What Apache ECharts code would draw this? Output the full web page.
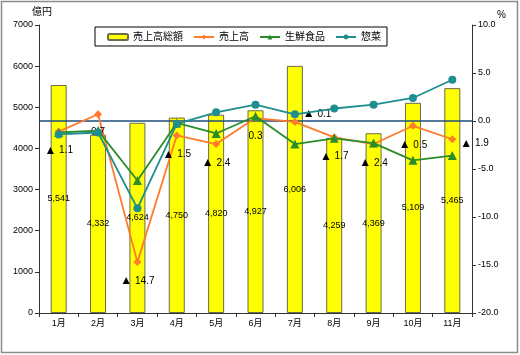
<!DOCTYPE html>
<html>
<head>
<meta charset="utf-8">
<script src="https://cdn.jsdelivr.net/npm/echarts@6/dist/echarts.min.js"></script>
<style>
html,body{margin:0;padding:0;background:#fff;}
#main{width:520px;height:355px;}
</style>
</head>
<body>
<div id="main"></div>
<script>
// ---- data ----
var categories = ['1月','2月','3月','4月','5月','6月','7月','8月','9月','10月','11月'];
var salesTotal = [5541, 4332, 4624, 4750, 4820, 4927, 6006, 4259, 4369, 5109, 5465];   // 売上高総額 (億円)
var salesYoY   = [-1.1, 0.7, -14.7, -1.5, -2.4, 0.3, -0.1, -1.7, -2.4, -0.5, -1.9];     // 売上高 (%)
var freshYoY   = [-1.2, -1.0, -6.2, -0.2, -1.3, 0.5, -2.4, -1.8, -2.3, -4.1, -3.6];     // 生鮮食品 (%)
var deliYoY    = [-1.4, -1.2, -9.1, -0.3, 0.9, 1.7, 0.7, 1.3, 1.7, 2.4, 4.3];           // 惣菜 (%)
var leftTicks  = [0, 7000, 1000];
var rightTicks = [-20, 10, 5];
var seriesNames = ['売上高総額', '売上高', '生鮮食品', '惣菜'];

// label placement for the 売上高 data labels (layout only)
var salesLabelPos = ['bottom','bottom','bottom','bottom','bottom','bottom','right','bottom','bottom','bottom','right'];

var FONT = "'Liberation Sans', 'Noto Sans CJK JP', sans-serif";
var chart = echarts.init(document.getElementById('main'), null, {renderer: 'canvas'});

function fmtPct(v) {
  return v < 0 ? '{tri|▲} ' + Math.abs(v).toFixed(1) : v.toFixed(1);
}

var salesData = salesYoY.map(function (v, i) {
  var item = {value: v};
  if (salesLabelPos[i] === 'right') {
    item.label = {position: 'right', distance: 4, offset: [0, i === 6 ? -8 : 4]};
  }
  return item;
});

var option = {
  animation: false,
  textStyle: {fontFamily: FONT},
  graphic: [
    {type: 'rect', shape: {x: 1.5, y: 1.5, width: 516, height: 351},
     style: {fill: 'none', stroke: '#8c8c8c', lineWidth: 1.5}, z: -10},
    {type: 'text', left: 32, top: 7, style: {text: '億円', font: '10px ' + FONT, fill: '#000'}},
    {type: 'text', left: 497, top: 10, style: {text: '%', font: '10px ' + FONT, fill: '#000'}}
  ],
  legend: {
    left: 95, top: 27,
    data: seriesNames,
    borderColor: '#000', borderWidth: 1,
    padding: [5, 6, 4, 12],
    itemWidth: 20, itemHeight: 6, itemGap: 10,
    textStyle: {fontSize: 10, color: '#000', fontFamily: FONT}
  },
  grid: {left: 39, right: 48, top: 25, bottom: 42},
  xAxis: {
    type: 'category',
    data: categories,
    boundaryGap: true,
    axisLine: {lineStyle: {color: '#333', width: 1}},
    axisTick: {show: true, length: 4, lineStyle: {color: '#333'}},
    axisLabel: {color: '#000', fontSize: 9, margin: 6, fontFamily: FONT}
  },
  yAxis: [
    {
      type: 'value', min: leftTicks[0], max: leftTicks[1], interval: leftTicks[2],
      axisLine: {show: true, lineStyle: {color: '#333'}},
      axisTick: {show: true, length: 4, lineStyle: {color: '#333'}},
      splitLine: {show: false},
      axisLabel: {color: '#000', fontSize: 9, margin: 6,
        formatter: function (v) { return String(v); }}
    },
    {
      type: 'value', min: rightTicks[0], max: rightTicks[1], interval: rightTicks[2],
      position: 'right',
      axisLine: {show: true, lineStyle: {color: '#333'}},
      axisTick: {show: true, length: 4, lineStyle: {color: '#333'}},
      splitLine: {show: false},
      axisLabel: {color: '#000', fontSize: 9, margin: 6,
        formatter: function (v) { return v.toFixed(1); }}
    }
  ],
  series: [
    {
      name: seriesNames[0], type: 'bar', yAxisIndex: 0,
      data: salesTotal, barWidth: 16,
      itemStyle: {color: '#FFFF00', borderColor: '#6b6b4a', borderWidth: 1},
      label: {show: true, position: 'inside', fontSize: 9, color: '#000',
        formatter: function (p) { return p.value.toLocaleString('en-US'); }},
      z: 1
    },
    {
      name: seriesNames[1], type: 'line', yAxisIndex: 1,
      data: salesData,
      symbol: 'diamond', symbolSize: 8,
      lineStyle: {color: '#FF7A2A', width: 1.8},
      itemStyle: {color: '#FF7A2A'},
      label: {show: true, position: 'bottom', distance: 9, fontSize: 10, color: '#000',
        rich: {tri: {fontSize: 12, color: '#000'}},
        formatter: function (p) { return fmtPct(p.value); }},
      z: 3,
      markLine: {
        silent: true, symbol: 'none',
        label: {show: false},
        lineStyle: {color: '#1F4E79', width: 1.5, type: 'solid'},
        data: [{yAxis: 0}],
        z: 2
      }
    },
    {
      name: seriesNames[2], type: 'line', yAxisIndex: 1,
      data: freshYoY,
      symbol: 'triangle', symbolSize: 9,
      lineStyle: {color: '#2A8C2A', width: 1.8},
      itemStyle: {color: '#2A8C2A'},
      z: 4
    },
    {
      name: seriesNames[3], type: 'line', yAxisIndex: 1,
      data: deliYoY,
      symbol: 'circle', symbolSize: 8,
      lineStyle: {color: '#1E8E8E', width: 1.8},
      itemStyle: {color: '#1E8E8E'},
      z: 5
    }
  ]
};
chart.setOption(option);
</script>
</body>
</html>
